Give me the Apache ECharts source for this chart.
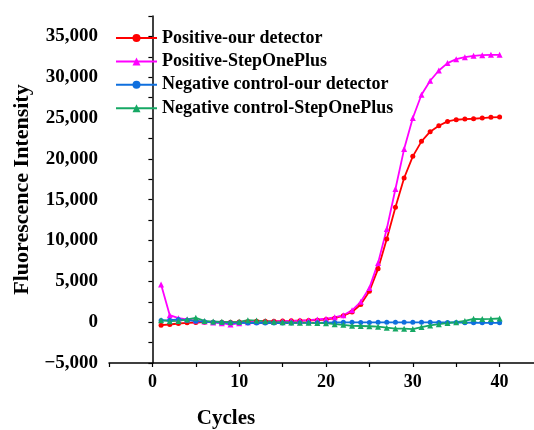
<!DOCTYPE html>
<html>
<head>
<meta charset="utf-8">
<script src="https://cdn.jsdelivr.net/npm/echarts@6/dist/echarts.min.js"></script>
<style>
  html, body { margin: 0; padding: 0; background: #fff; }
  #main { width: 534px; height: 430px; }
</style>
</head>
<body>
<div id="main"></div>
<script>
// cycles 1..40
const cycles = [];
for (let i = 1; i <= 40; i++) cycles.push(i);

const posOurs = [-365, -285, -160, -80, -40, 0, 0, 0, 0, 20,
  60, 100, 120, 120, 140, 160, 180, 200, 250, 330,
  480, 800, 1250, 2165, 3800, 6530, 10200, 14070, 17660, 20310,
  22150, 23330, 24060, 24590, 24795, 24875, 24915, 25000, 25085, 25125];
const posStep = [4610, 860, 490, 330, 200, 80, -40, -120, -285, -120,
  0, 40, 80, 80, 120, 160, 200, 240, 330, 420,
  600, 850, 1450, 2490, 4200, 7260, 11420, 16315, 21200, 25000,
  27850, 29570, 30830, 31730, 32215, 32460, 32625, 32705, 32745, 32745];
const negOurs = [200, 245, 330, 250, 120, 40, 0, -40, -80, -80,
  -100, -100, -100, -100, -100, -100, -80, -80, -80, -60,
  -40, -20, -20, -30, -30, -20, -20, -20, -20, -20,
  -20, -20, -30, -40, -40, -60, -70, -80, -80, -80];
const negStep = [245, 120, 150, 330, 530, 150, 80, 40, 0, 40,
  245, 200, 120, 40, 0, -40, -60, -80, -100, -120,
  -250, -330, -450, -470, -500, -550, -680, -780, -800, -850,
  -600, -400, -250, -100, 0, 150, 410, 380, 400, 450];

const seriesNames = ['Positive-our detector', 'Positive-StepOnePlus',
  'Negative control-our detector', 'Negative control-StepOnePlus'];
const seriesData = [posOurs, posStep, negOurs, negStep];
const colors = ['#ff0000', '#ff00ff', '#0f6fde', '#16a864'];
const symbols = ['circle', 'triangle', 'circle', 'triangle'];

const font = '"Times New Roman", "Liberation Serif", serif';

function fmt(v) {
  const s = Math.abs(v).toLocaleString('en-US');
  return v < 0 ? '\u2212' + s : s;
}

const chart = echarts.init(document.getElementById('main'));
chart.setOption({
  animation: false,
  grid: { left: 109, right: -9, top: 16, bottom: 67, outerBoundsMode: 'none' },
  legend: {
    orient: 'vertical',
    left: 110,
    top: 24,
    itemWidth: 41,
    itemHeight: 10,
    itemGap: 5.4,
    textStyle: { fontFamily: font, fontWeight: 'bold', fontSize: 18, color: '#000', lineHeight: 17 },
    data: seriesNames
  },
  xAxis: {
    type: 'value',
    min: -5,
    max: 45,
    interval: 5,
    splitLine: { show: false },
    axisLine: { onZero: false, lineStyle: { color: '#000', width: 1.5 } },
    axisTick: { length: 4, lineStyle: { color: '#000', width: 1.2 } },
    axisLabel: {
      margin: 10,
      fontFamily: font, fontWeight: 'bold', fontSize: 18, color: '#000',
      formatter: v => (v % 10 === 0 && v >= 0 && v <= 40) ? String(v) : ''
    }
  },
  yAxis: {
    type: 'value',
    min: -5000,
    max: 37500,
    interval: 2500,
    splitLine: { show: false },
    axisLine: { lineStyle: { color: '#000', width: 1.5 } },
    axisTick: { length: 4, lineStyle: { color: '#000', width: 1.2 } },
    axisLabel: {
      margin: 11,
      fontFamily: font, fontWeight: 'bold', fontSize: 19, color: '#000',
      formatter: v => (v % 5000 === 0 && v <= 35000) ? fmt(v) : ''
    },
    name: 'Fluorescence Intensity',
    nameLocation: 'middle',
    nameGap: 68,
    nameTextStyle: { fontFamily: font, fontWeight: 'bold', fontSize: 22, color: '#000' }
  },
  graphic: [{
    type: 'text',
    x: 226,
    y: 419,
    style: {
      text: 'Cycles',
      font: 'bold 21px ' + font,
      fill: '#000',
      textAlign: 'center',
      textVerticalAlign: 'middle'
    }
  }],
  series: seriesNames.map((name, i) => ({
    name: name,
    type: 'line',
    data: cycles.map((c, j) => [c, seriesData[i][j]]),
    symbol: symbols[i],
    symbolSize: symbols[i] === 'triangle' ? 6 : 5,
    showAllSymbol: true,
    color: colors[i],
    lineStyle: { width: 1.8, color: colors[i] },
    itemStyle: { color: colors[i] }
  }))
});
</script>
</body>
</html>
